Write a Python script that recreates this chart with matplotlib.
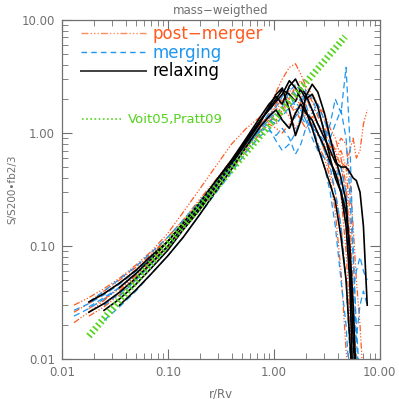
import numpy as np
import matplotlib
matplotlib.use("Agg")
import matplotlib.pyplot as plt
from matplotlib.ticker import FixedLocator, LogLocator, NullFormatter

nan = np.nan

# common radius grid (r/Rv)
r = [0.013, 0.018, 0.025, 0.035, 0.05, 0.07, 0.10, 0.14, 0.20, 0.28, 0.40,
     0.55, 0.75, 0.90, 1.05, 1.2, 1.4, 1.6, 1.8, 2.0, 2.3, 2.6, 3.0, 3.4,
     3.8, 4.3, 4.8, 5.2, 5.6, 6.0, 6.5, 7.0, 7.6]

# post-merger profiles
post_merger = [
    [0.030, 0.035, 0.042, 0.052, 0.068, 0.090, 0.13, 0.20, 0.32, 0.50, 0.80, 1.10, 1.40, 1.70, 2.3, 3.0, 3.8, 4.1, 3.3, 2.6, 2.2, 1.8, 1.3, 0.9, 0.55, 0.28, 0.09, 0.025, 0.006],
    [0.021, 0.026, 0.033, 0.043, 0.058, 0.080, 0.11, 0.16, 0.24, 0.36, 0.55, 0.80, 1.15, 1.30, 1.20, 1.5, 1.9, 1.6, 1.3, 1.8, 2.2, 1.7, 1.5, 1.1, 0.9, 0.6, 0.35, 0.12, 0.03, 0.006],
    [nan, 0.032, 0.040, 0.050, 0.065, 0.085, 0.12, 0.17, 0.25, 0.37, 0.56, 0.82, 1.20, 1.45, 1.60, 1.9, 2.4, 2.1, 1.7, 1.4, 1.2, 0.95, 0.8, 0.65, 0.6, 0.55, 0.5, 0.7, 0.9, 0.6, 0.7, 1.2, 1.6],
    [nan, 0.028, 0.034, 0.042, 0.055, 0.075, 0.10, 0.15, 0.22, 0.33, 0.50, 0.74, 1.05, 1.25, 1.50, 1.7, 1.4, 1.1, 1.3, 1.6, 1.3, 1.0, 0.7, 0.45, 0.3, 0.15, 0.05, 0.015, 0.006],
    [nan, nan, 0.030, 0.039, 0.052, 0.071, 0.10, 0.15, 0.22, 0.33, 0.52, 0.78, 1.10, 1.40, 1.8, 2.2, 2.0, 2.5, 2.2, 1.6, 1.1, 0.8, 0.6, 0.4, 0.2, 0.06, 0.012, 0.005],
    [nan, 0.024, 0.029, 0.037, 0.050, 0.069, 0.097, 0.14, 0.21, 0.31, 0.47, 0.70, 1.00, 1.20, 1.10, 1.0, 1.2, 1.5, 1.3, 1.1, 1.4, 1.2, 0.9, 0.75, 0.7, 0.5, 0.3, 0.1, 0.02, 0.006],
    [nan, nan, nan, 0.040, 0.055, 0.075, 0.11, 0.16, 0.24, 0.36, 0.55, 0.83, 1.20, 1.45, 1.7, 2.0, 1.8, 1.5, 1.9, 2.1, 1.5, 1.2, 1.0, 0.8, 0.6, 0.7, 0.5, 0.2, 0.04, 0.006],
    [0.026, 0.031, 0.038, 0.047, 0.062, 0.083, 0.12, 0.17, 0.26, 0.38, 0.58, 0.85, 1.20, 1.35, 1.3, 1.6, 2.0, 2.6, 2.9, 2.4, 1.9, 1.4, 1.1, 0.9, 0.7, 0.9, 0.8, 0.4, 0.15, 0.05, 0.02, 0.006],
]

# merging profiles
merging = [
    [0.027, 0.031, 0.037, 0.046, 0.060, 0.080, 0.11, 0.16, 0.23, 0.34, 0.52, 0.76, 1.05, 1.10, 0.85, 0.7, 0.8, 1.0, 1.4, 2.0, 1.6, 1.2, 1.0, 0.9, 1.2, 1.6, 0.9, 0.3, 0.08, 0.02, 0.006],
    [nan, 0.032, 0.040, 0.051, 0.066, 0.088, 0.12, 0.17, 0.25, 0.37, 0.57, 0.84, 1.15, 1.40, 1.7, 2.1, 2.5, 2.2, 1.9, 2.4, 2.0, 1.5, 1.1, 0.8, 0.6, 0.4, 0.2, 0.05, 0.012, 0.005],
    [nan, nan, 0.022, 0.029, 0.040, 0.057, 0.082, 0.12, 0.19, 0.29, 0.45, 0.68, 0.95, 1.05, 0.95, 1.1, 0.9, 0.65, 0.8, 1.1, 1.3, 1.0, 0.7, 0.5, 0.3, 0.15, 0.05, 0.012, 0.005],
    [nan, 0.029, 0.035, 0.043, 0.057, 0.077, 0.11, 0.16, 0.23, 0.35, 0.54, 0.80, 1.15, 1.50, 2.0, 2.5, 2.2, 1.7, 1.4, 1.2, 1.5, 1.8, 1.3, 0.9, 0.6, 0.35, 0.15, 0.06, 0.04, 0.06, 0.08, 0.06, 0.05],
    [nan, nan, 0.030, 0.038, 0.050, 0.069, 0.098, 0.14, 0.21, 0.32, 0.50, 0.75, 1.10, 1.30, 1.2, 1.4, 1.7, 1.9, 1.6, 1.3, 1.1, 1.0, 0.85, 1.2, 2.0, 1.5, 3.8, 0.9, 0.1, 0.015, 0.005],
    [0.024, 0.028, 0.034, 0.043, 0.057, 0.078, 0.11, 0.16, 0.24, 0.36, 0.55, 0.82, 1.15, 1.35, 1.5, 1.3, 1.1, 1.4, 1.6, 1.3, 0.9, 0.7, 0.6, 0.55, 0.4, 0.5, 0.3, 0.1, 0.03, 0.015, 0.03, 0.04, 0.03],
    [nan, nan, nan, 0.036, 0.050, 0.070, 0.10, 0.15, 0.22, 0.33, 0.50, 0.75, 1.05, 1.25, 1.4, 1.7, 2.3, 2.7, 2.3, 1.8, 1.2, 0.8, 0.5, 0.3, 0.15, 0.05, 0.02, 0.006],
]

# relaxing profiles
relaxing = [
    [nan, 0.032, 0.038, 0.047, 0.061, 0.082, 0.11, 0.16, 0.24, 0.37, 0.58, 0.90, 1.40, 1.80, 2.1, 1.8, 2.6, 3.0, 2.4, 2.0, 2.2, 1.7, 1.0, 0.6, 0.4, 0.3, 0.2, 0.1, 0.03, 0.006],
    [nan, nan, 0.027, 0.034, 0.046, 0.064, 0.092, 0.14, 0.21, 0.33, 0.53, 0.82, 1.25, 1.70, 2.2, 2.5, 1.6, 0.95, 1.3, 2.1, 2.7, 2.3, 1.5, 0.9, 0.6, 0.4, 0.25, 0.08, 0.015, 0.005],
    [nan, nan, nan, 0.043, 0.057, 0.077, 0.11, 0.16, 0.24, 0.37, 0.57, 0.87, 1.30, 1.65, 2.0, 2.4, 2.2, 1.9, 2.5, 2.2, 1.6, 1.2, 0.9, 0.7, 0.55, 0.5, 0.5, 0.45, 0.4, 0.38, 0.3, 0.15, 0.03],
    [nan, 0.026, 0.031, 0.039, 0.052, 0.071, 0.10, 0.15, 0.22, 0.34, 0.54, 0.85, 1.30, 1.60, 1.9, 2.2, 2.9, 2.5, 2.0, 1.6, 1.1, 0.75, 0.5, 0.35, 0.25, 0.12, 0.05, 0.015, 0.005],
    [nan, nan, nan, 0.030, 0.041, 0.057, 0.082, 0.12, 0.19, 0.30, 0.48, 0.76, 1.15, 1.40, 1.60, 1.30, 1.1, 1.5, 1.8, 1.5, 1.3, 1.0, 0.75, 0.55, 0.45, 0.3, 0.15, 0.05, 0.005],
]

# Voit05 / Pratt09 baseline end points
voit_r = [0.018, 4.7]
voit_s = [0.016, 7.1]

orange = "#FF5A1F"
blue = "#1E96F0"
green = "#55D41E"
grey = "#707070"

fig = plt.figure(figsize=(3.99, 3.99), dpi=100)
ax = fig.add_axes([0.155, 0.100, 0.797, 0.850])

for prof in post_merger:
    ax.plot(r[:len(prof)], prof, color=orange, lw=0.9, ls=(0, (5, 1.5, 1, 1.5, 1, 1.5, 1, 1.5)))
for prof in merging:
    ax.plot(r[:len(prof)], prof, color=blue, lw=0.9, ls=(0, (5, 3)))
for prof in relaxing:
    ax.plot(r[:len(prof)], prof, color="black", lw=1.2)

ax.plot(voit_r, voit_s, color=green, lw=5, ls=(0, (0.25, 0.4)), solid_capstyle="butt",
        dash_capstyle="butt")

ax.set_xscale("log")
ax.set_yscale("log")
ax.set_xlim(0.01, 10)
ax.set_ylim(0.01, 10)

majors = [0.01, 0.1, 1, 10]
ax.xaxis.set_major_locator(FixedLocator(majors))
ax.yaxis.set_major_locator(FixedLocator(majors))
ax.xaxis.set_minor_locator(LogLocator(base=10, subs=np.arange(2, 10)))
ax.yaxis.set_minor_locator(LogLocator(base=10, subs=np.arange(2, 10)))
ax.xaxis.set_minor_formatter(NullFormatter())
ax.yaxis.set_minor_formatter(NullFormatter())
ax.set_xticklabels(["0.01", "0.10", "1.00", "10.00"])
ax.set_yticklabels(["0.01", "0.10", "1.00", "10.00"])
ax.tick_params(which="both", direction="in", top=True, right=True, colors=grey,
               labelsize=8.5, pad=5)
ax.tick_params(which="major", length=7, width=0.8)
ax.tick_params(which="minor", length=4, width=0.6)
for s in ax.spines.values():
    s.set_color(grey)
    s.set_linewidth(0.9)

ax.set_title("mass\u2212weigthed", color=grey, fontsize=8.5, pad=4)
ax.set_xlabel("r/Rv", color=grey, fontsize=8.5, labelpad=6)
ax.set_ylabel("S/S200\u2022fb2/3", color=grey, fontsize=7.5, labelpad=3)

h1, = ax.plot([], [], color=orange, lw=1.0, ls=(0, (5, 1.5, 1, 1.5, 1, 1.5, 1, 1.5)), alpha=0.7)
h2, = ax.plot([], [], color=blue, lw=1.0, ls=(0, (4, 3)))
h3, = ax.plot([], [], color="#404040", lw=1.4)
leg1 = ax.legend([h1, h2, h3], ["post\u2212merger", "merging", "relaxing"],
                 loc="upper left", bbox_to_anchor=(0.012, 1.03), frameon=False,
                 fontsize=12, handlelength=3.9, handletextpad=0.4, labelspacing=0.05,
                 labelcolor=[orange, blue, "black"])
ax.add_artist(leg1)
h4, = ax.plot([], [], color=green, lw=1.2, ls=(0, (1, 1.5)))
ax.legend([h4], ["Voit05,Pratt09"], loc="upper left", bbox_to_anchor=(0.025, 0.76),
          frameon=False, fontsize=9.5, handlelength=3.0, handletextpad=0.5,
          labelcolor=[green])

fig.savefig("out.png", dpi=100)
